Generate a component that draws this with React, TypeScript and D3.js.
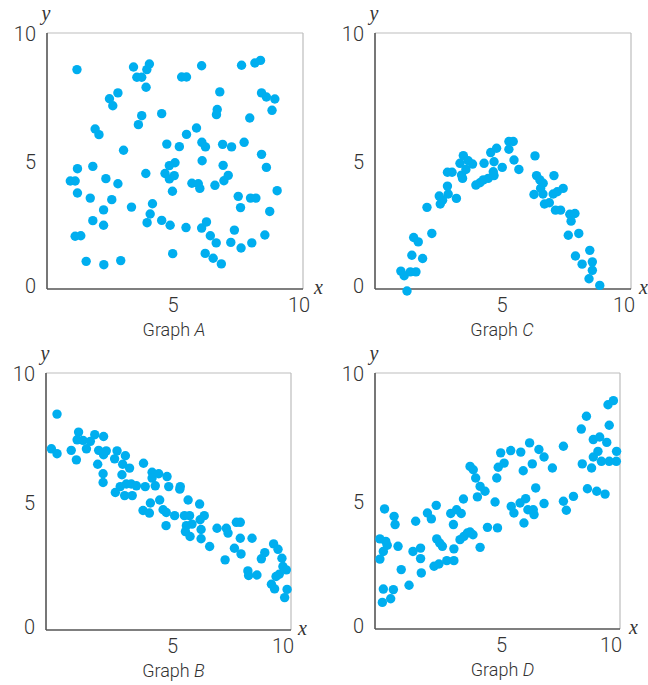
import React from 'react';
import * as d3 from 'd3';

// values, [x, y]
const graphA = [
  [1.17, 8.57], [3.38, 8.67], [3.51, 8.27], [3.7, 8.27], [3.9, 8.57], [4.0, 8.79], [3.87, 7.88],
  [5.26, 8.28], [5.45, 8.28], [6.04, 8.72], [7.6, 8.74], [8.12, 8.83], [8.34, 8.93], [6.75, 7.7],
  [8.38, 7.66], [8.57, 7.5], [8.9, 7.42], [8.79, 6.98], [2.44, 7.43], [2.77, 7.66], [2.57, 7.16],
  [3.7, 6.77], [3.57, 6.42], [4.48, 6.85], [6.65, 7.01], [6.62, 6.81], [7.92, 6.68], [1.88, 6.25],
  [2.03, 6.03], [5.84, 6.29], [5.45, 6.04], [2.99, 5.42], [4.68, 5.66], [5.17, 5.56], [6.05, 5.73],
  [6.19, 5.55], [6.86, 5.65], [7.21, 5.55], [7.7, 5.73], [8.38, 5.26], [6.06, 5.01], [6.88, 4.83],
  [8.57, 4.75], [1.19, 4.7], [1.79, 4.79], [5.0, 4.93], [4.78, 4.82], [0.91, 4.22], [1.1, 4.22],
  [2.3, 4.31], [2.77, 4.11], [3.86, 4.51], [4.61, 4.51], [4.78, 4.3], [4.97, 4.43], [4.9, 3.82],
  [5.66, 4.13], [5.91, 4.11], [5.97, 3.93], [6.56, 4.05], [6.91, 4.23], [7.08, 4.44], [1.19, 3.75],
  [1.69, 3.55], [2.53, 3.49], [3.3, 3.2], [4.12, 3.33], [2.21, 3.09], [4.03, 2.93], [3.91, 2.59],
  [4.48, 2.68], [4.81, 2.49], [1.79, 2.67], [2.21, 2.49], [5.43, 2.4], [6.04, 2.38], [6.23, 2.62],
  [6.38, 2.08], [6.61, 1.8], [7.32, 2.3], [7.18, 1.82], [7.58, 1.6], [8.0, 1.8], [7.47, 3.62],
  [7.56, 3.18], [7.95, 3.55], [8.16, 3.55], [8.7, 3.03], [8.99, 3.84], [8.51, 2.11], [1.1, 2.06],
  [1.32, 2.08], [1.53, 1.08], [2.22, 0.95], [2.88, 1.11], [4.91, 1.38], [6.18, 1.39], [6.49, 1.2],
  [6.81, 0.98],
];

const graphB = [
  [0.22, 7.05], [0.45, 6.86], [0.45, 8.4], [1.03, 6.99], [1.24, 6.62], [1.33, 7.7], [1.27, 7.4],
  [1.51, 7.38], [1.65, 7.05], [1.81, 7.34], [1.99, 7.6], [2.35, 7.53], [2.11, 6.45], [2.15, 6.99],
  [2.35, 6.82], [2.46, 6.97], [2.33, 6.08], [2.33, 5.74], [2.8, 6.66], [2.9, 6.97], [2.83, 5.35],
  [3.03, 5.58], [3.1, 6.04], [3.13, 6.45], [3.24, 6.78], [3.21, 5.23], [3.41, 6.3], [3.28, 5.68],
  [3.48, 5.68], [3.69, 5.61], [3.52, 5.23], [3.98, 6.49], [4.05, 5.58], [3.96, 4.65], [4.22, 4.55],
  [4.26, 4.94], [4.33, 6.14], [4.33, 5.91], [4.46, 5.61], [4.6, 6.08], [4.94, 5.97], [4.64, 5.06],
  [4.78, 4.68], [4.91, 4.57], [5.01, 5.58], [4.9, 4.06], [5.25, 4.45], [5.48, 5.58], [5.46, 5.48],
  [5.65, 4.45], [5.86, 4.45], [5.73, 4.06], [5.96, 4.12], [5.69, 3.83], [5.88, 3.64], [5.8, 5.06],
  [6.27, 4.9], [6.29, 4.29], [6.46, 4.45], [6.33, 3.91], [6.33, 3.55], [6.68, 3.25], [6.98, 3.96],
  [7.36, 3.96], [7.43, 3.77], [7.31, 2.73], [7.69, 3.18], [7.96, 2.96], [7.77, 4.19], [7.93, 4.19],
  [7.93, 3.57], [8.41, 3.57], [8.24, 2.3], [8.27, 2.12], [8.61, 2.14], [8.79, 2.77], [8.93, 3.01],
  [9.29, 3.35], [9.47, 3.14], [9.63, 2.79], [9.2, 1.78], [9.33, 1.6], [9.39, 2.08], [9.52, 2.17],
  [9.67, 2.47], [9.81, 2.34], [9.84, 1.58], [9.74, 1.26],
];

const graphC = [
  [1.01, 0.7], [1.14, 0.52], [1.25, -0.08], [1.38, 0.67], [1.6, 0.67], [1.44, 1.32], [1.51, 2.01],
  [1.69, 1.84], [1.86, 1.19], [2.03, 3.19], [2.22, 2.17], [2.51, 3.63], [2.55, 3.32], [2.64, 3.47],
  [2.83, 4.02], [2.86, 3.71], [2.83, 4.56], [3.01, 4.56], [3.18, 3.54], [3.32, 4.91], [3.38, 4.45],
  [3.42, 4.32], [3.45, 5.21], [3.55, 4.67], [3.64, 5.01], [3.81, 4.88], [3.94, 4.06], [4.1, 4.15],
  [4.23, 4.26], [4.26, 4.91], [4.42, 4.32], [4.65, 4.43], [4.62, 4.58], [4.52, 5.33], [4.75, 5.5],
  [4.65, 4.97], [4.97, 4.75], [5.23, 5.46], [5.23, 5.76], [5.4, 5.76], [5.43, 5.04], [5.62, 4.67],
  [6.25, 5.2], [6.31, 4.43], [6.44, 4.26], [6.57, 4.13], [6.21, 3.69], [6.47, 3.93], [6.56, 3.71],
  [6.62, 3.32], [6.81, 3.37], [6.99, 4.43], [6.96, 3.71], [7.12, 3.8], [7.35, 3.93], [7.05, 3.08],
  [7.25, 3.08], [7.61, 2.92], [7.81, 2.95], [7.66, 2.65], [7.55, 2.1], [7.96, 2.17], [7.83, 1.29],
  [8.09, 0.97], [8.39, 1.51], [8.49, 1.06], [8.49, 0.73], [8.36, 0.4], [8.78, 0.14],
];

const graphD = [
  [0.2, 3.52], [0.2, 2.73], [0.34, 3.03], [0.44, 3.42], [0.5, 3.27], [0.39, 4.69], [0.34, 1.56],
  [0.3, 1.04], [0.64, 1.18], [0.75, 1.54], [0.78, 4.4], [0.82, 4.08], [0.94, 3.23], [1.07, 2.32],
  [1.39, 1.71], [1.66, 4.21], [1.55, 3.03], [1.86, 3.16], [1.86, 2.75], [1.89, 2.19], [2.14, 4.53],
  [2.3, 4.3], [2.5, 4.83], [2.41, 2.45], [2.61, 2.54], [2.52, 3.52], [2.64, 3.36], [2.75, 3.23],
  [2.93, 2.67], [3.22, 2.67], [3.09, 4.51], [3.33, 4.66], [3.52, 4.51], [3.2, 4.08], [3.22, 3.13],
  [3.47, 3.49], [3.63, 3.62], [3.77, 3.75], [3.88, 3.79], [4.0, 3.68], [3.61, 5.08], [3.88, 6.35],
  [4.01, 6.22], [4.11, 5.9], [4.18, 5.16], [4.29, 5.57], [4.49, 5.38], [4.29, 3.19], [4.59, 3.97],
  [4.9, 4.96], [4.97, 5.9], [5.0, 3.95], [5.03, 6.32], [5.27, 6.48], [5.13, 6.88], [5.54, 6.97],
  [5.56, 4.79], [5.67, 4.53], [5.95, 6.91], [5.92, 4.92], [6.05, 6.18], [6.08, 4.14], [6.15, 5.09],
  [6.24, 4.66], [6.31, 7.27], [6.42, 6.45], [6.46, 4.66], [6.49, 4.47], [6.56, 5.51], [6.69, 7.01],
  [6.9, 6.72], [6.9, 4.9], [7.24, 6.29], [7.69, 7.14], [7.69, 4.99], [7.81, 4.64], [8.1, 5.18],
  [8.42, 7.81], [8.63, 8.31], [8.46, 6.45], [8.67, 5.48], [8.84, 6.29], [8.91, 7.4], [8.91, 6.72],
  [9.1, 6.94], [9.17, 7.5], [9.05, 5.38], [9.24, 6.55], [9.39, 5.27], [9.46, 7.29], [9.51, 8.76],
  [9.73, 8.92], [9.56, 7.96], [9.56, 6.55], [9.85, 6.55], [9.86, 6.94],
];

const yTicks = [0, 5, 10];
const xTicks = [5, 10];

const dotColor = '#00aeef';
const tickFont = 'Roboto, "Open Sans", sans-serif';
const mathFont = '"Liberation Serif", "DejaVu Serif", serif';

// plot boxes, label nudges line up with the hand-set figure
const panels = [
  { letter: 'A', data: graphA, left: 47, top: 33, width: 256, height: 256, tickDx: [-2, -4], titleDx: -1, xLabelDx: 11 },
  { letter: 'C', data: graphC, left: 375, top: 33, width: 256, height: 256, tickDx: [-1, -7], titleDx: -1, xLabelDx: 8 },
  { letter: 'B', data: graphB, left: 46, top: 373, width: 245, height: 257, tickDx: [4, -8], titleDx: 5, xLabelDx: 7 },
  { letter: 'D', data: graphD, left: 375, top: 373, width: 245, height: 256, tickDx: [4, -9], titleDx: 5, xLabelDx: 9 },
];

const Panel = ({ p }) => {
  const x = d3.scaleLinear().domain([0, 10]).range([p.left, p.left + p.width]);
  const y = d3.scaleLinear().domain([0, 10]).range([p.top + p.height, p.top]);
  const right = p.left + p.width;
  const bottom = p.top + p.height;

  return (
    <g>
      {/* light top/right edges, dark axes */}
      <line x1={p.left} x2={right} y1={p.top} y2={p.top} stroke="#bdbdbd" strokeWidth={1.2} />
      <line x1={right} x2={right} y1={p.top} y2={bottom} stroke="#bdbdbd" strokeWidth={1.2} />
      <line x1={p.left} x2={p.left} y1={p.top} y2={bottom} stroke="#555" strokeWidth={1.6} />
      <line x1={p.left} x2={right} y1={bottom} y2={bottom} stroke="#555" strokeWidth={1.6} />

      {yTicks.map((t) => (
        <text key={'y' + t} x={p.left - 11} y={y(t) + (t === 0 ? -3 : 1)} textAnchor="end"
          dominantBaseline="central" fontFamily={tickFont} fontWeight={300} fontSize={20} fill="#333">
          {t}
        </text>
      ))}
      {xTicks.map((t, i) => (
        <text key={'x' + t} x={x(t) + p.tickDx[i]} y={bottom + 23} textAnchor="middle"
          fontFamily={tickFont} fontWeight={300} fontSize={20} fill="#333">
          {t}
        </text>
      ))}

      <text x={p.left - 1} y={p.top - 13} textAnchor="middle" fontFamily={mathFont}
        fontStyle="italic" fontSize={20} fill="#333">y</text>
      <text x={right + p.xLabelDx} y={bottom + 5} fontFamily={mathFont}
        fontStyle="italic" fontSize={20} fill="#333">x</text>

      {p.data.map((d, i) => (
        <circle key={i} cx={x(d[0])} cy={y(d[1])} r={4.7} fill={dotColor} />
      ))}

      <text x={x(5) + p.titleDx} y={bottom + 47} textAnchor="middle" fontFamily={tickFont}
        fontWeight={300} fontSize={18} fill="#333">
        Graph <tspan fontStyle="italic">{p.letter}</tspan>
      </text>
    </g>
  );
};

export default function App() {
  return (
    <svg width={648} height={685} style={{ position: 'absolute', left: 0, top: 0, background: '#fff' }}>
      {panels.map((p) => (
        <Panel key={p.letter} p={p} />
      ))}
    </svg>
  );
}
